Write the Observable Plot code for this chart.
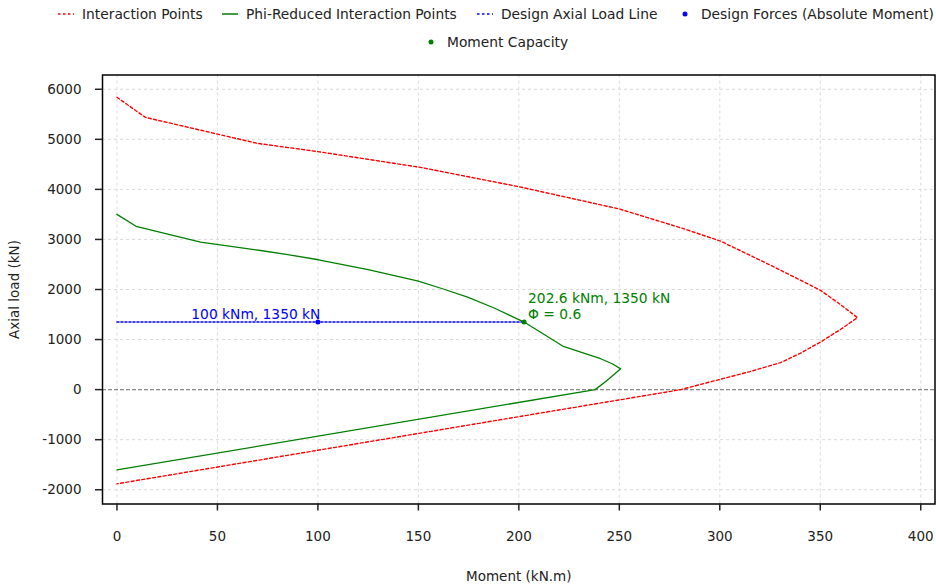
<!DOCTYPE html>
<html><head><meta charset="utf-8">
<script src="https://cdn.jsdelivr.net/npm/d3@7"></script>
<script src="https://cdn.jsdelivr.net/npm/@observablehq/plot@0.6"></script>
<style>
body{margin:0;background:#fff;font-family:"DejaVu Sans",sans-serif;}
#legend{position:relative;width:936px;height:60px;font-size:13.8px;color:#222;}
.item{position:absolute;display:flex;align-items:center;white-space:nowrap;height:18px;line-height:18px;}
.item svg{margin-right:7px;flex:none}
</style></head><body>
<div id="legend"></div>
<div id="chart"></div>
<script>
// Interaction diagram (moment kN.m, axial load kN)
const interactionM = [0, 14.2, 69.8, 100, 151, 200, 250, 282.3, 300.5, 325, 340, 350.2, 360, 368.5, 360, 350.2, 340, 330.3, 315, 300.5, 280.6, 200, 100, 0];
const interactionP = [5840, 5438, 4920, 4755, 4440, 4054, 3609, 3211, 2964, 2490, 2190, 1982, 1700, 1438, 1200, 952, 725, 540, 360, 209, 0, -540, -1211, -1882];

const reducedM = [0, 9.5, 41.6, 71.5, 85, 100.3, 125, 150, 162, 174.5, 188, 202.6, 221.8, 230.8, 240.7, 246.5, 250.7, 244, 238, 0];
const reducedP = [3500, 3263, 2945, 2779, 2695, 2594, 2395, 2167, 2015, 1849, 1625, 1350, 870, 750, 617, 517, 415, 186, 0, -1604];

const designLineM = [0, 202.6];
const designLineP = [1350, 1350];

const designM = [100];
const designP = [1350];
const designLabel = ["100 kNm, 1350 kN"];

const capacityM = [202.6];
const capacityP = [1350];
const capacityLabel = ["202.6 kNm, 1350 kN\nΦ = 0.6"];

const xTicks = [0, 50, 100, 150, 200, 250, 300, 350, 400];
const yTicks = [-2000, -1000, 0, 1000, 2000, 3000, 4000, 5000, 6000];

const legendItems = [
  {label: "Interaction Points", kind: "dotted", color: "red", left: 57, top: 5},
  {label: "Phi-Reduced Interaction Points", kind: "solid", color: "green", left: 221, top: 5},
  {label: "Design Axial Load Line", kind: "dotted", color: "blue", left: 476, top: 5},
  {label: "Design Forces (Absolute Moment)", kind: "dot", color: "blue", left: 676, top: 5},
  {label: "Moment Capacity", kind: "dot", color: "green", left: 422, top: 33}
];

const zip = (xs, ys, extra) => xs.map((x, i) => ({m: x, p: ys[i], t: extra ? extra[i] : null}));
const interaction = zip(interactionM, interactionP);
const reduced = zip(reducedM, reducedP);
const designLine = zip(designLineM, designLineP);
const designPt = zip(designM, designP, designLabel);
const capacityPt = zip(capacityM, capacityP, capacityLabel);

// legend
const leg = document.getElementById("legend");
for (const it of legendItems) {
  const d = document.createElement("div");
  d.className = "item";
  d.style.left = it.left + "px";
  d.style.top = it.top + "px";
  let sym;
  if (it.kind === "dotted") sym = `<svg width="18" height="10"><line x1="1" y1="5" x2="17" y2="5" stroke="${it.color}" stroke-width="1.5" stroke-dasharray="2.5,2.5"/></svg>`;
  else if (it.kind === "solid") sym = `<svg width="18" height="10"><line x1="1" y1="5" x2="17" y2="5" stroke="${it.color}" stroke-width="1.5"/></svg>`;
  else sym = `<svg width="18" height="10"><circle cx="9" cy="5" r="2.5" fill="${it.color}"/></svg>`;
  d.innerHTML = sym + `<span>${it.label}</span>`;
  leg.appendChild(d);
}

const fmt = d => String(d);
const chart = Plot.plot({
  width: 936, height: 526,
  marginTop: 14.5, marginBottom: 82.5, marginLeft: 102, marginRight: 1.5,
  style: {fontFamily: "DejaVu Sans", fontSize: "13.5px", color: "#222", background: "#fff"},
  x: {domain: [-7.2, 407.1]},
  y: {domain: [-2285, 6285]},
  marks: [
    Plot.gridX(xTicks, {stroke: "#dadada", strokeOpacity: 1, strokeDasharray: "3,3"}),
    Plot.gridY(yTicks, {stroke: "#dadada", strokeOpacity: 1, strokeDasharray: "3,3"}),
    Plot.ruleY([0], {stroke: "#888", strokeDasharray: "4,2", strokeWidth: 1.2}),
    Plot.line(interaction, {x: "m", y: "p", stroke: "red", strokeDasharray: "3,2.4", strokeWidth: 1.4}),
    Plot.line(reduced, {x: "m", y: "p", stroke: "green", strokeWidth: 1.3}),
    Plot.line(designLine, {x: "m", y: "p", stroke: "blue", strokeDasharray: "2,2", strokeWidth: 1.5}),
    Plot.dot(designPt, {x: "m", y: "p", fill: "blue", r: 2.5}),
    Plot.dot(capacityPt, {x: "m", y: "p", fill: "green", r: 2.5}),
    Plot.text(designPt, {x: "m", y: "p", text: "t", fill: "blue", textAnchor: "end", lineAnchor: "bottom", dx: 2.5, dy: -3.5, fontSize: 13.8}),
    Plot.text(capacityPt, {x: "m", y: "p", text: "t", fill: "green", textAnchor: "start", lineAnchor: "bottom", lineHeight: 1.17, dx: 4, dy: -3, fontSize: 13.8}),
    Plot.frame({stroke: "black", strokeWidth: 1.5}),
    Plot.axisX(xTicks, {tickSize: 7, tickPadding: 20, strokeWidth: 1.5, tickFormat: fmt, label: "Moment (kN.m)", labelAnchor: "center", labelArrow: "none", labelOffset: 77}),
    Plot.axisY(yTicks, {tickSize: 7, tickPadding: 14, strokeWidth: 1.5, tickFormat: fmt, label: "Axial load (kN)", labelAnchor: "center", labelArrow: "none", labelOffset: 93})
  ]
});
document.getElementById("chart").appendChild(chart);
</script>
</body></html>
